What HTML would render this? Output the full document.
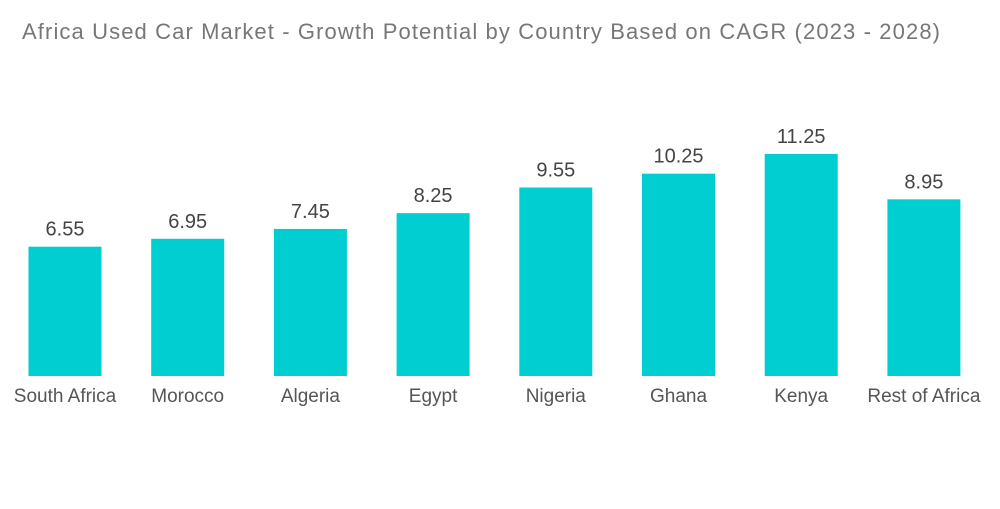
<!DOCTYPE html>
<html><head><meta charset="utf-8"><style>
body{margin:0;background:#fff;}
svg text{font-family:"Liberation Sans",sans-serif;}
</style></head><body>
<svg id="chart" width="1000" height="504">
<text x="22" y="39" font-size="22" fill="#777" textLength="918" lengthAdjust="spacing">Africa Used Car Market - Growth Potential by Country Based on CAGR (2023 - 2028)</text>
<g id="bars"></g>
</svg>
<script>
const categories=["South Africa","Morocco","Algeria","Egypt","Nigeria","Ghana","Kenya","Rest of Africa"];
const values=[6.55,6.95,7.45,8.25,9.55,10.25,11.25,8.95];
const labels=["6.55","6.95","7.45","8.25","9.55","10.25","11.25","8.95"];
const base=376,scale=19.74,x0=28.5,step=122.7,bw=73;
const y=v=>base-v*scale;
const xc=i=>x0+i*step;
const g=document.getElementById('bars');
const ns="http://www.w3.org/2000/svg";
categories.forEach((c,i)=>{
 const r=document.createElementNS(ns,'rect');
 r.setAttribute('x',xc(i));r.setAttribute('y',y(values[i]));
 r.setAttribute('width',bw);r.setAttribute('height',base-y(values[i]));
 r.setAttribute('fill','#00CED1');
 
 
 g.appendChild(r);
 const t=document.createElementNS(ns,'text');
 t.setAttribute('x',xc(i)+bw/2);t.setAttribute('y',y(values[i])-11);
 t.setAttribute('text-anchor','middle');t.setAttribute('font-size','20');t.setAttribute('fill','#444');
 t.textContent=labels[i];
 
 
 g.appendChild(t);
 const l=document.createElementNS(ns,'text');
 l.setAttribute('x',xc(i)+bw/2);l.setAttribute('y',402);
 l.setAttribute('text-anchor','middle');l.setAttribute('font-size','19');l.setAttribute('fill','#555');
 l.textContent=c;
 
 
 g.appendChild(l);
});
</script>
</body></html>
